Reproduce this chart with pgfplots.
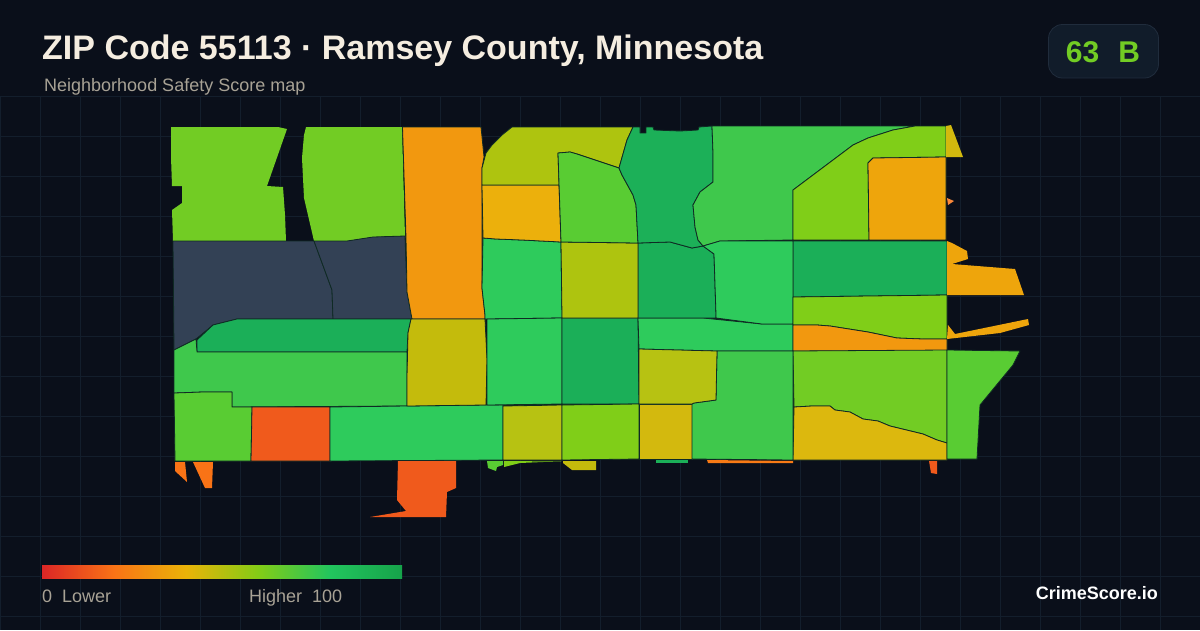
\documentclass[border=0pt]{standalone}
\usepackage{pgfplots}
\pgfplotsset{compat=1.18}
\usepackage{fontspec}
\setmainfont{Liberation Sans}
\definecolor{bg}{HTML}{0A0F1A}
\definecolor{gridc}{HTML}{131E2C}
\definecolor{bord}{HTML}{0F2A24}
\definecolor{slate}{HTML}{334155}
\definecolor{org}{HTML}{F2980F}
\definecolor{amb}{HTML}{EEA50C}
\definecolor{ambb}{HTML}{ECB00C}
\definecolor{lime}{HTML}{72CC24}
\definecolor{limeb}{HTML}{80CE18}
\definecolor{olive}{HTML}{AEC40F}
\definecolor{olb}{HTML}{C4BB0C}
\definecolor{olc}{HTML}{B7C212}
\definecolor{yela}{HTML}{D3B90E}
\definecolor{yelb}{HTML}{DCB80E}
\definecolor{gr}{HTML}{2ECB5C}
\definecolor{grb}{HTML}{3FC84C}
\definecolor{grc}{HTML}{59CC33}
\definecolor{dgr}{HTML}{1BAF58}
\definecolor{redo}{HTML}{F05A1C}
\definecolor{titlec}{HTML}{F5EDE0}
\definecolor{subc}{HTML}{A8A295}
\definecolor{badgef}{HTML}{111C2A}
\definecolor{badged}{HTML}{202C3C}
\definecolor{c0}{HTML}{DC2626}
\definecolor{c1}{HTML}{F97316}
\definecolor{c2}{HTML}{EAB308}
\definecolor{c3}{HTML}{84CC16}
\definecolor{c4}{HTML}{22C55E}
\definecolor{c5}{HTML}{16A34A}
\pgfdeclarehorizontalshading{legendgrad}{100bp}{color(0bp)=(c0); color(25bp)=(c0); color(35bp)=(c1); color(45bp)=(c2); color(55bp)=(c3); color(65bp)=(c4); color(75bp)=(c5); color(100bp)=(c5)}
\newcommand\poly[2]{\addplot[fill=#1,draw=bord,line width=0.8pt,line join=round,forget plot,mark=none] coordinates {#2} -- cycle;}
\newcommand\polyn[2]{\addplot[fill=#1,draw=none,forget plot,mark=none] coordinates {#2} -- cycle;}
\begin{document}
\begin{tikzpicture}
\begin{axis}[scale only axis,width=1200pt,height=630pt,xmin=0,xmax=1200,ymin=0,ymax=630,y dir=reverse,hide axis,clip=true]
\fill[bg] (axis cs:0,0) rectangle (axis cs:1200,630);
\pgfplotsinvokeforeach{0,40,...,1200}{\draw[gridc,line width=0.8pt] (axis cs:#1,96) -- (axis cs:#1,630);}
\pgfplotsinvokeforeach{96,136,...,616}{\draw[gridc,line width=0.8pt] (axis cs:0,#1) -- (axis cs:1200,#1);}

% north-west
\polyn{lime}{(171,127)(278,127)(287,129)(267,186)(283,187)(285,215)(286,241)(173,241)(172,210)(182,203)(182,186)(172,186)(171,157)}
\polyn{lime}{(306,127)(402,127)(405,236)(373,237)(347,241)(314,241)(304,198)(302,158)(304,135)}
\poly{slate}{(173,241)(314,241)(332,290)(333,319)(237,319)(213,325)(196,339)(174,350)}
\poly{slate}{(314,241)(347,241)(373,237)(405,236)(407,292)(412,319)(333,319)(332,290)}
\poly{org}{(402.5,127)(481,127)(484,157)(482,168)(482,238)(482,288)(485,315)(485,319)(412,319)(407,292)(406,238)}
\poly{dgr}{(411,319)(408,333)(407,352)(197,352)(197,340)(213,325)(237,319)}
\poly{grb}{(174,350)(196,339)(197,352)(407,352)(407,377)(407,406)(232,407)(232,398)(232,392)(203,392)(174,393)}
\poly{grc}{(174,393)(203,392)(232,392)(232,407)(252,407)(251,461)(175,461)}
\poly{redo}{(252,407)(330,407)(330,461)(251,461)}
\poly{gr}{(330,407)(407,406)(487,405)(503,405)(503,460)(330,461)}
\poly{olb}{(411,319)(485,319)(487,360)(486,405)(407,406)(407,377)(408,333)}
% central columns
\poly{gr}{(483,238)(496,239)(522,240)(561,242)(562,315)(562,318)(487,319)(485,319)(485,315)(482,288)}
\poly{gr}{(487,319)(562,318)(562,404)(487,405)}
\poly{dgr}{(562,318)(638,318)(639,404)(562,404)}
\poly{gr}{(638,318)(703,318)(762,324)(793,324)(793,351)(717,351)(639,349)}
\poly{dgr}{(638,243)(670,242)(692,248)(703,246)(714,254)(716,315)(716,318)(638,318)}
\poly{olive}{(561,242)(638,243)(638,318)(562,318)}
\poly{ambb}{(482,185)(559,185)(561,242)(522,240)(496,239)(483,238)}
\poly{olive}{(482,168)(486,153)(492,145)(502,135)(512,127)(633,127)(627,140)(619,168)(577,154)(570,152)(558,153)(559,185)(482,185)}
\poly{grc}{(558,153)(570,152)(577,154)(619,168)(622,175)(633,195)(636,205)(638,243)(561,242)}
\poly{dgr!95!gr}{(633,127)(640,127)(640,133)(646,133)(646,127)(653,127)(654,130)(680,131)(698,130)(699,127)(712,126)(713,153)(713,182)(700,192)(693,205)(695,227)(698,240)(703,246)(692,248)(670,242)(638,243)(636,205)(633,195)(622,175)(619,168)(627,140)}
% north-east
\poly{grb}{(712,126)(915,126)(893,130)(868,138)(853,145)(793,190)(793,240)(720,241)(703,246)(698,240)(695,227)(693,205)(700,192)(713,182)(713,153)}
\poly{limeb}{(915,126)(946,126)(946,157)(873,158)(868,163)(869,240)(793,240)(793,190)(853,145)(868,138)(893,130)}
\poly{amb}{(946,157)(946,240)(869,240)(868,163)(873,158)}
\polyn{yela}{(946,126)(951,125)(963,157)(946,157)}
\polyn{c1!85!white}{(947,198)(954,201)(948,205)}
\poly{dgr}{(793,241)(947,241)(947,295)(793,297)}
\poly{gr}{(720,241)(793,241)(793,297)(793,324)(762,324)(716,318)(716,315)(714,254)(703,246)}
\poly{limeb}{(793,297)(947,295)(947,323)(947,339)(923,339)(897,338)(868,332)(830,326)(817,325)(793,325)}
\poly{org}{(793,325)(817,325)(830,326)(868,332)(897,338)(923,339)(947,339)(947,351)(793,351)}
\polyn{amb}{(948,325)(955,334)(1028,319)(1029,325)(1000,333)(947,339)}
\polyn{amb}{(947,241)(952,243)(967,251)(968,259)(952,264)(1015,269)(1024,295)(947,295)}
% south-east
\poly{lime}{(793,351)(947,350)(947,443)(937,440)(923,434)(890,426)(878,421)(863,419)(850,412)(835,410)(830,406)(812,406)(794,407)}
\poly{yelb}{(794,407)(812,406)(830,406)(835,410)(850,412)(863,419)(878,421)(890,426)(923,434)(937,440)(947,443)(947,460)(793,460)}
\poly{grc}{(947,350)(1020,351)(1013,365)(980,405)(977,459)(947,459)}
\polyn{redo}{(929,461)(937,461)(937,474)(931,473)}
% south centre
\poly{olc}{(503,406)(562,405)(562,460)(503,460)}
\poly{limeb}{(562,405)(639,404)(639,459)(562,460)}
\poly{yela}{(639,404)(692,404)(692,459)(639,459)}
\poly{grb}{(692,404)(694,403)(716,400)(717,351)(793,351)(793,460)(692,459)}
\poly{olc}{(639,349)(717,351)(716,400)(694,403)(692,404)(639,404)}
% slivers
\polyn{grc}{(487,461)(503,461)(503,465)(497,467)(496,471)(488,468)}
\polyn{limeb}{(504,461)(562,461.5)(543,462)(520,463)(504,467)}
\polyn{olb}{(563,461)(596,461)(596,470)(572,470)(563,463)}
\polyn{dgr}{(656,460)(688,460)(688,463)(656,463)}
\polyn{c1!80!org}{(707,460)(793,461)(793,463)(708,463)}
\polyn{c1}{(175,462)(185,462)(187,482)(175,471)}
\polyn{c1}{(193,462)(213,462)(212,488)(205,488)}
\polyn{redo}{(398,461)(456,461)(456,488)(447,492)(446,517)(398,517)(370,517)(406,511)(397,500)}

% legend
\shade[shading=legendgrad] (axis cs:42,565) rectangle (axis cs:402,578);
\node[anchor=base west,inner sep=0pt,font=\fontsize{18}{18}\selectfont,text=subc] at (axis cs:42,602) {0\hspace{10pt}Lower};
\node[anchor=base west,inner sep=0pt,font=\fontsize{18}{18}\selectfont,text=subc] at (axis cs:249,602) {Higher\hspace{10pt}100};
\node[anchor=base east,inner sep=0pt,font=\bfseries\fontsize{18}{18}\selectfont,text=white] at (axis cs:1158,599) {CrimeScore.io};
% title
\node[anchor=base west,inner sep=0pt,font=\bfseries\fontsize{34}{34}\selectfont,text=titlec] at (axis cs:42,59) {ZIP Code 55113 · Ramsey County, Minnesota};
\node[anchor=base west,inner sep=0pt,font=\fontsize{18}{18}\selectfont,text=subc] at (axis cs:44,91) {Neighborhood Safety Score map};
% badge
\draw[fill=badgef,draw=badged,line width=0.8pt,rounded corners=14pt] (axis cs:1048.5,24.5) rectangle (axis cs:1158.5,78);
\node[anchor=base,inner sep=0pt,font=\bfseries\fontsize{30}{30}\selectfont,text=lime] at (axis cs:1103,62) {63\hspace{19pt}B};
\end{axis}
\end{tikzpicture}
\end{document}
